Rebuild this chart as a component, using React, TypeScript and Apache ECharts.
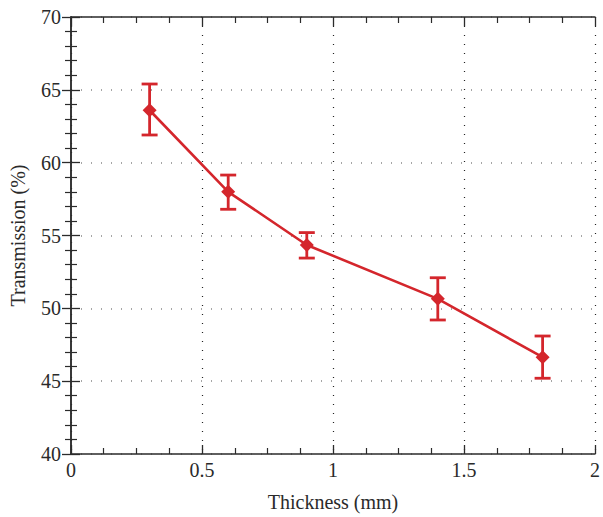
import React, { useEffect, useRef } from "react";
import * as echarts from "echarts";

const thickness = [0.3, 0.6, 0.9, 1.4, 1.8];
const transmission = [63.6, 58.0, 54.35, 50.65, 46.65];
const errLow = [61.9, 56.8, 53.45, 49.2, 45.2];
const errHigh = [65.4, 59.15, 55.2, 52.1, 48.1];
const xTicks = [0, 0.5, 1, 1.5, 2];
const yTicks = [40, 45, 50, 55, 60, 65, 70];

const RED = "#d4262c";
const FONT = "Liberation Serif";

export default function App() {
  const ref = useRef<HTMLDivElement>(null);
  useEffect(() => {
    const chart = echarts.init(ref.current!, undefined, { renderer: "svg" });
    const axisLine = { show: true, lineStyle: { color: "#2b2b2b", width: 1.5 } };
    const tickIn = { show: true, inside: true, length: 9, lineStyle: { color: "#2b2b2b", width: 1.3 } };
    const minorIn = { show: true, length: 6, lineStyle: { color: "#2b2b2b", width: 1.2 } };
    const label = { fontFamily: FONT, fontSize: 20, color: "#2a2a2a" };
    const points = thickness.map((x, i) => [x, transmission[i]]);
    const errs = thickness.map((x, i) => [x, errLow[i], errHigh[i]]);
    chart.setOption({
      animation: false,
      backgroundColor: "#fff",
      grid: { left: 70, right: 4, top: 17, bottom: 61 },
      xAxis: [
        {
          type: "value", min: xTicks[0], max: xTicks[xTicks.length - 1], interval: 0.5,
          position: "bottom",
          name: "Thickness (mm)", nameLocation: "middle", nameGap: 38,
          nameTextStyle: { ...label },
          axisLine, axisTick: tickIn,
          minorTick: { ...minorIn, splitNumber: 4 },
          axisLabel: { ...label, margin: 6, formatter: (v: number) => String(v) },
          splitLine: { show: true, lineStyle: { type: [1, 8], color: "#222", width: 1.2 } },
        },
        {
          type: "value", min: xTicks[0], max: xTicks[xTicks.length - 1], interval: 0.5,
          position: "top",
          axisLine, axisTick: tickIn,
          minorTick: { ...minorIn, splitNumber: 4 },
          axisLabel: { show: false }, splitLine: { show: false },
        },
      ],
      yAxis: [
        {
          type: "value", min: yTicks[0], max: yTicks[yTicks.length - 1], interval: 5,
          position: "left",
          name: "Transmission (%)", nameLocation: "middle", nameGap: 43,
          nameTextStyle: { ...label },
          axisLine, axisTick: tickIn,
          minorTick: { ...minorIn, splitNumber: 5 },
          axisLabel: { ...label, margin: 10 },
          splitLine: { show: true, lineStyle: { type: [1, 9], color: "#888", width: 1.5 } },
        },
        {
          type: "value", min: yTicks[0], max: yTicks[yTicks.length - 1], interval: 5,
          position: "right",
          axisLine, axisTick: tickIn,
          minorTick: { ...minorIn, splitNumber: 5 },
          axisLabel: { show: false }, splitLine: { show: false },
        },
      ],
      series: [
        {
          type: "custom",
          xAxisIndex: 0, yAxisIndex: 0,
          data: errs,
          z: 3,
          renderItem: (params: any, api: any) => {
            const x = api.value(0);
            const lo = api.coord([x, api.value(1)]);
            const hi = api.coord([x, api.value(2)]);
            const w = 8;
            const style = { stroke: RED, lineWidth: 2.8 };
            return {
              type: "group",
              children: [
                { type: "line", shape: { x1: lo[0], y1: lo[1], x2: hi[0], y2: hi[1] }, style },
                { type: "line", shape: { x1: lo[0] - w, y1: lo[1], x2: lo[0] + w, y2: lo[1] }, style },
                { type: "line", shape: { x1: hi[0] - w, y1: hi[1], x2: hi[0] + w, y2: hi[1] }, style },
              ],
            };
          },
        },
        {
          type: "line",
          xAxisIndex: 0, yAxisIndex: 0,
          data: points,
          z: 4,
          symbol: "diamond",
          symbolSize: 14,
          lineStyle: { color: RED, width: 2.6 },
          itemStyle: { color: RED },
        },
      ],
    });
    return () => chart.dispose();
  }, []);
  return <div ref={ref} style={{ width: 603, height: 517, position: "absolute", left: 0, top: 0 }} />;
}
